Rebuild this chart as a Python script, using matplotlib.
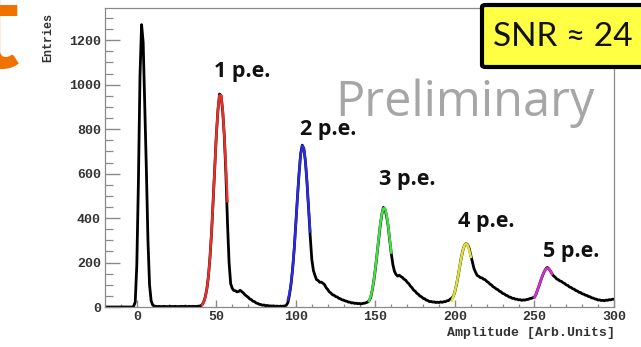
import numpy as np
import matplotlib
matplotlib.use("Agg")
import matplotlib.pyplot as plt
from matplotlib.patches import FancyBboxPatch
from matplotlib.ticker import MultipleLocator

# histogram contents, one bin per amplitude unit starting at -20
entries = [
    0, 0, 0, 0, 0, 0, 0, 0, 0, 0,
    0, 0, 0, 0, 0, 0, 0, 0, 3, 22,
    190, 560, 1040, 1270, 1190, 910, 620, 300, 100, 28,
    9, 4, 3, 2, 3, 2, 2, 3, 2, 2,
    2, 3, 2, 2, 3, 2, 2, 2, 3, 2,
    3, 2, 2, 3, 2, 3, 3, 2, 3, 4,
    5, 10, 22, 44, 80, 136, 224, 335, 478, 626,
    775, 885, 958, 950, 880, 770, 600, 380, 200, 105,
    84, 74, 73, 68, 70, 75, 69, 63, 55, 49,
    44, 36, 33, 26, 24, 18, 16, 12, 11, 8,
    9, 6, 7, 5, 5, 4, 5, 3, 4, 3,
    3, 3, 4, 4, 8, 20, 55, 105, 175, 265,
    380, 495, 600, 690, 728, 712, 655, 560, 440, 320,
    215, 165, 142, 123, 119, 111, 112, 107, 101, 87,
    79, 68, 63, 55, 53, 47, 45, 39, 37, 32,
    31, 27, 26, 22, 22, 18, 19, 16, 17, 15,
    16, 14, 16, 17, 19, 22, 28, 42, 75, 118,
    172, 236, 300, 365, 415, 448, 440, 410, 365, 300,
    240, 190, 160, 146, 139, 143, 137, 133, 125, 121,
    111, 105, 94, 87, 76, 71, 62, 57, 49, 46,
    39, 37, 31, 29, 24, 25, 22, 23, 20, 22,
    20, 23, 21, 24, 24, 28, 29, 35, 40, 48,
    70, 102, 140, 182, 222, 255, 278, 286, 280, 262,
    232, 200, 172, 156, 142, 138, 132, 131, 125, 123,
    115, 111, 103, 99, 91, 87, 81, 78, 71, 68,
    61, 59, 53, 51, 45, 44, 39, 39, 35, 35,
    32, 33, 30, 32, 31, 34, 34, 38, 39, 42,
    44, 58, 78, 98, 120, 140, 157, 170, 178, 172,
    163, 150, 140, 134, 126, 123, 117, 115, 109, 106,
    99, 97, 90, 88, 82, 80, 74, 72, 66, 65,
    59, 58, 53, 52, 47, 46, 41, 40, 36, 35,
    31, 32, 29, 30, 28, 31, 30, 33, 32, 35,
    35,
]
amplitude = np.arange(-20, -20 + len(entries))

# fitted p.e. peaks
fit1_x = list(range(41, 58))
fit1_y = [10, 21, 42, 79, 137, 222, 337, 476, 628, 773, 888, 952, 952, 888, 773, 628, 476]
fit2_x = list(range(95, 110))
fit2_y = [33, 62, 109, 176, 267, 376, 493, 603, 685, 726, 715, 657, 561, 446, 340]
fit3_x = list(range(146, 161))
fit3_y = [27, 47, 77, 120, 174, 238, 305, 369, 417, 444, 444, 417, 369, 305, 245]
fit4_x = list(range(198, 211))
fit4_y = [29, 47, 71, 103, 141, 182, 222, 255, 278, 286, 278, 255, 225]
fit5_x = list(range(250, 262))
fit5_y = [43, 59, 78, 99, 120, 141, 157, 169, 174, 172, 163, 150]

fits = [(fit1_x, fit1_y, "#e8302a"), (fit2_x, fit2_y, "#2a2ae0"),
        (fit3_x, fit3_y, "#44dd44"), (fit4_x, fit4_y, "#e2de3a"),
        (fit5_x, fit5_y, "#d030d0")]

pe_labels = ["1 p.e.", "2 p.e.", "3 p.e.", "4 p.e.", "5 p.e."]
pe_label_px = [(242, 72), (328, 129), (407, 180), (486, 222), (571, 251)]

W, H = 641, 347
fig = plt.figure(figsize=(W / 100, H / 100), dpi=100)
ax = fig.add_axes([105 / W, 1 - 307 / H, (614 - 105) / W, (307 - 8) / H])

ax.plot(amplitude, entries, color="black", lw=2)
for fx, fy, c in fits:
    ax.plot(fx, fy, color=c, lw=1.8)

ax.set_xlim(-20, 300)
ax.set_ylim(0, 1345)

mono = {"family": "Liberation Mono", "weight": "bold"}
grey = "#8a8a8a"
for s in ax.spines.values():
    s.set_color(grey)
    s.set_linewidth(0.9)
ax.xaxis.set_major_locator(MultipleLocator(50))
ax.xaxis.set_minor_locator(MultipleLocator(10))
ax.yaxis.set_major_locator(MultipleLocator(200))
ax.yaxis.set_minor_locator(MultipleLocator(50))
ax.tick_params(axis="y", which="major", direction="in", length=11, width=1, color=grey,
               labelsize=9.5, labelcolor="#333333", pad=3)
ax.tick_params(axis="y", which="minor", direction="in", length=5.5, width=0.9, color=grey)
ax.tick_params(axis="x", which="major", direction="in", length=5, width=1, color=grey,
               labelsize=9.5, labelcolor="#333333", pad=3)
ax.tick_params(axis="x", which="minor", direction="in", length=2.5, width=0.9, color=grey)
ax.tick_params(right=False, top=False)
for lab in ax.get_xticklabels() + ax.get_yticklabels():
    lab.set_fontfamily("Liberation Mono")
    lab.set_fontweight("bold")

fig.text(48 / W, 1 - 38 / H, "Entries", rotation=90, ha="center", va="center",
         fontsize=8.5, color="#333333", **mono)
fig.text(615 / W, 1 - 333 / H, "Amplitude [Arb.Units]", ha="right", va="center",
         fontsize=9.5, color="#333333", **mono)

for txt, (px, py) in zip(pe_labels, pe_label_px):
    fig.text(px / W, 1 - py / H, txt, ha="center", va="center", fontsize=15.5,
             fontweight="bold", family=["Open Sans", "DejaVu Sans"], color="#111111")

fig.text(335 / W, 1 - 116 / H, "Preliminary", ha="left", va="baseline", fontsize=35,
         family=["Open Sans", "DejaVu Sans"], color="#a6a6a6")

box = FancyBboxPatch((482 / W, 1 - 67 / H), (660 - 482) / W, (67 - 5) / H,
                     boxstyle="round,pad=0,rounding_size=0.006", transform=fig.transFigure,
                     facecolor="#ffff44", edgecolor="black", lw=3, clip_on=False)
fig.patches.append(box)
fig.text(493 / W, 1 - 37 / H, "SNR \u2248 24", ha="left", va="center", fontsize=24,
         family=["Lato", "DejaVu Sans"], color="#111111")

fig.text(19 / W, 1 - 68 / H, "t", ha="right", va="baseline", fontsize=90, fontweight="bold",
         family=["Lato", "DejaVu Sans"], color="#f07000")

fig.savefig("out.png", dpi=100)
